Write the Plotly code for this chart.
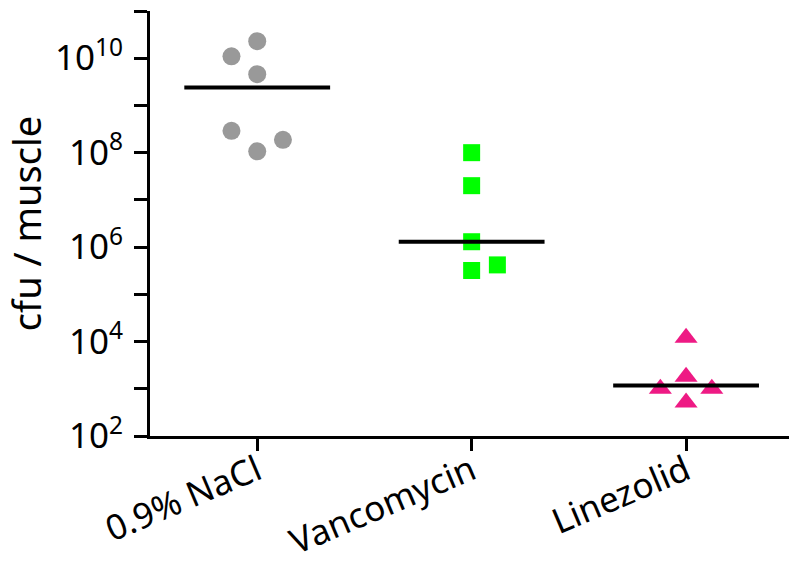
import plotly.graph_objects as go

categories = ["0.9% NaCl", "Vancomycin", "Linezolid"]

nacl_values = [1.1e10, 2.3e10, 4.6e9, 2.9e8, 1.07e8, 1.87e8]
nacl_offsets = [-0.12, 0.0, 0.0, -0.12, 0.0, 0.12]

vanco_values = [1.0e8, 2.0e7, 1.3e6, 3.2e5, 4.2e5]
vanco_offsets = [0.0, 0.0, 0.0, 0.0, 0.12]

line_values = [1.2e4, 1.8e3, 1.0e3, 1.0e3, 5.1e2]
line_offsets = [0.0, 0.0, -0.12, 0.12, 0.0]

medians = [2.4e9, 1.3e6, 1.17e3]

ytick_major_exps = [2, 4, 6, 8, 10]
ytick_labels = ["10<sup>2</sup>", "10<sup>4</sup>", "10<sup>6</sup>",
                "10<sup>8</sup>", "10<sup>10</sup>"]
ytick_minor_exps = [3, 5, 7, 9, 11]

FONT = "Noto Sans"

fig = go.Figure()

series = [
    (0, nacl_values, nacl_offsets, "circle", "#999999", 18),
    (1, vanco_values, vanco_offsets, "square", "#00FF00", 17),
    (2, line_values, line_offsets, "triangle-up", "#EE1A84", 20),
]
for idx, vals, offs, sym, col, sz in series:
    fig.add_trace(go.Scatter(
        x=[idx + o for o in offs], y=vals, mode="markers",
        marker=dict(symbol=sym, color=col, size=sz, line=dict(width=0)),
        showlegend=False, hoverinfo="skip"))

for i, m in enumerate(medians):
    fig.add_trace(go.Scatter(
        x=[i - 0.34, i + 0.34], y=[m, m], mode="lines",
        line=dict(color="black", width=4), showlegend=False, hoverinfo="skip"))

fig.update_layout(
    width=789, height=563,
    margin=dict(l=150, r=0, t=11, b=127),
    plot_bgcolor="white", paper_bgcolor="white",
    font=dict(family=FONT, color="black", size=34),
    xaxis=dict(
        range=[-0.5, 2.48], showgrid=False, zeroline=False,
        showline=True, linewidth=3, linecolor="black",
        ticks="outside", ticklen=12, tickwidth=3, tickcolor="black",
        tickvals=[0, 1, 2], ticktext=categories, tickangle=-23,
        tickfont=dict(size=35, family=FONT),
        ticklabelstandoff=-14,
        automargin=False,
    ),
    yaxis=dict(
        type="log", range=[2, 11], showgrid=False, zeroline=False,
        showline=True, linewidth=3, linecolor="black",
        ticks="outside", ticklen=13, tickwidth=3, tickcolor="black",
        tickvals=[10 ** e for e in ytick_major_exps], ticktext=ytick_labels,
        minor=dict(tickvals=[10 ** e for e in ytick_minor_exps], ticks="outside",
                   ticklen=13, tickwidth=3, tickcolor="black", showgrid=False),
        tickfont=dict(size=35, family=FONT),
        ticklabelstandoff=4,
        automargin=False,
        title=dict(text="cfu / muscle", font=dict(size=38, family=FONT), standoff=8),
    ),
)

fig.write_html("out.html")
